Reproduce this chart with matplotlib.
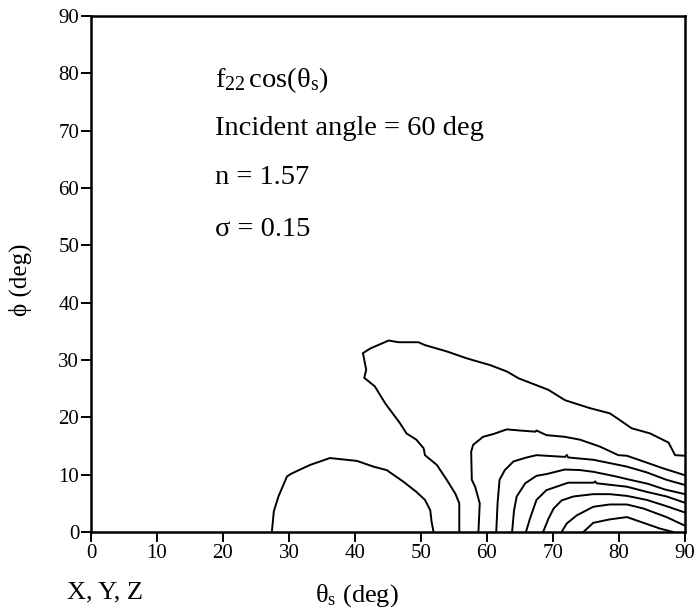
import matplotlib
matplotlib.use("Agg")
import matplotlib.pyplot as plt

plt.rcParams['font.family'] = ['Liberation Serif', 'DejaVu Serif']
plt.rcParams['mathtext.fontset'] = 'custom'
plt.rcParams['mathtext.rm'] = 'Liberation Serif'
plt.rcParams['mathtext.it'] = 'Liberation Serif:italic'

# Contour lines: (theta_s, phi) in degrees
c1_x = [27.4, 27.7, 28.4, 29.7, 30.4, 33.2, 36.2, 40.3, 42.8, 44.8, 47.3, 49.3, 50.6, 51.4, 51.6, 51.9]
c1_y = [0.0, 3.6, 6.2, 9.7, 10.2, 11.7, 12.9, 12.4, 11.4, 10.8, 8.8, 7.0, 5.6, 3.8, 1.8, 0.0]

c2_x = [55.8, 55.8, 55.2, 53.9, 52.4, 50.6, 50.4, 49.3, 47.8, 46.8, 44.6, 43.0, 41.4, 41.7, 41.2,
        42.3, 45.1, 46.6, 49.6, 50.6, 53.9, 56.9, 60.5, 63.0, 64.8, 67.5, 69.3, 71.8, 72.6, 75.6,
        78.6, 79.9, 81.9, 84.7, 87.5, 88.5, 90.0]
c2_y = [0.0, 5.0, 6.7, 9.1, 11.7, 13.4, 14.6, 16.1, 17.2, 19.0, 22.4, 25.4, 26.9, 28.3, 31.2,
        32.0, 33.4, 33.1, 33.1, 32.6, 31.5, 30.3, 29.1, 28.0, 26.8, 25.6, 24.8, 23.0, 22.7, 21.6,
        20.7, 19.7, 18.1, 17.2, 15.6, 13.4, 13.3]

c3_x = [58.7, 58.9, 58.2, 57.7, 57.6, 57.9, 59.4, 61.0, 63.0, 65.0, 67.3, 67.5, 69.0, 71.8,
        74.1, 77.1, 79.9, 81.2, 83.7, 86.7, 90.0]
c3_y = [0.0, 5.0, 7.9, 9.1, 14.0, 15.2, 16.6, 17.1, 17.9, 17.7, 17.5, 17.7, 16.9, 16.6,
        16.1, 14.9, 13.4, 13.3, 12.3, 11.1, 9.9]

c4_x = [61.4, 61.6, 61.9, 62.7, 64.0, 66.0, 67.5, 71.8, 72.1, 72.3, 76.1, 79.1, 81.2, 84.2, 87.2, 90.0]
c4_y = [0.0, 5.0, 9.1, 10.8, 12.3, 13.0, 13.4, 13.1, 13.4, 13.0, 12.6, 11.9, 11.4, 10.4, 9.1, 8.2]

c5_x = [63.8, 64.1, 64.5, 65.8, 67.5, 69.0, 71.8, 74.1, 76.1, 79.1, 81.7, 84.4, 87.0, 90.0]
c5_y = [0.0, 3.8, 6.2, 8.5, 9.8, 10.1, 10.9, 10.8, 10.5, 9.8, 9.1, 8.4, 7.4, 6.6]

c6_x = [65.9, 66.5, 67.5, 69.0, 72.3, 76.1, 76.4, 76.6, 81.2, 84.2, 87.2, 90.0]
c6_y = [0.0, 2.3, 5.6, 7.3, 8.6, 8.6, 8.8, 8.5, 7.9, 7.0, 6.2, 5.1]

c7_x = [68.5, 69.3, 70.1, 71.3, 73.1, 76.1, 78.6, 81.2, 84.2, 87.2, 90.0]
c7_y = [0.0, 2.3, 4.1, 5.5, 6.2, 6.6, 6.6, 6.3, 5.6, 4.5, 3.4]

c8_x = [71.3, 72.1, 73.6, 76.1, 78.6, 81.2, 83.7, 87.2, 90.0]
c8_y = [0.0, 1.5, 2.9, 4.4, 4.8, 4.8, 4.1, 2.6, 1.1]

c9_x = [74.6, 76.1, 78.6, 81.2, 83.7, 86.2, 88.2]
c9_y = [0.0, 1.6, 2.2, 2.6, 1.6, 0.6, 0.0]

contours = [(c1_x, c1_y), (c2_x, c2_y), (c3_x, c3_y), (c4_x, c4_y), (c5_x, c5_y),
            (c6_x, c6_y), (c7_x, c7_y), (c8_x, c8_y), (c9_x, c9_y)]

ticks = [0, 10, 20, 30, 40, 50, 60, 70, 80, 90]

W, H = 697, 612
fig = plt.figure(figsize=(W / 100, H / 100), dpi=100)
ax = fig.add_axes([91 / W, 1 - 532 / H, (685 - 91) / W, (532 - 16) / H])

for cx, cy in contours:
    ax.plot(cx, cy, color='black', lw=1.4, clip_on=False, solid_joinstyle='miter')

ax.set_xlim(0, 90)
ax.set_ylim(0, 90)
ax.set_xticks(ticks)
ax.set_yticks(ticks)
ax.set_xticklabels([str(t) for t in ticks])
ax.set_yticklabels([str(t) for t in ticks])
ax.tick_params(axis='both', direction='out', length=7.5, width=1.4, labelsize=15,
               pad=1, colors='black')
for s in ax.spines.values():
    s.set_linewidth(1.8)

tk = dict(fontsize=20.5, color='black', ha='left', va='center')
ax.text(18.8, 78.8, r'$\mathrm{f}_{22}\,\mathrm{cos(θ}_{\mathrm{s}}\mathrm{)}$', **tk)
ax.text(18.8, 70.3, 'Incident angle = 60 deg', **tk)
ax.text(18.8, 61.9, 'n = 1.57', **tk)
ax.text(18.8, 52.7, 'σ = 0.15', **tk)

fig.text(20 / W, 1 - 280 / H, 'ϕ (deg)', rotation=90, ha='center', va='center', fontsize=18)
fig.text(357 / W, 1 - 596 / H, r'$\mathrm{θ}_{\mathrm{s}}$ (deg)', ha='center', va='center', fontsize=19)
fig.text(105 / W, 1 - 592 / H, 'X, Y, Z', ha='center', va='center', fontsize=19)

fig.savefig('out.png', dpi=100)
